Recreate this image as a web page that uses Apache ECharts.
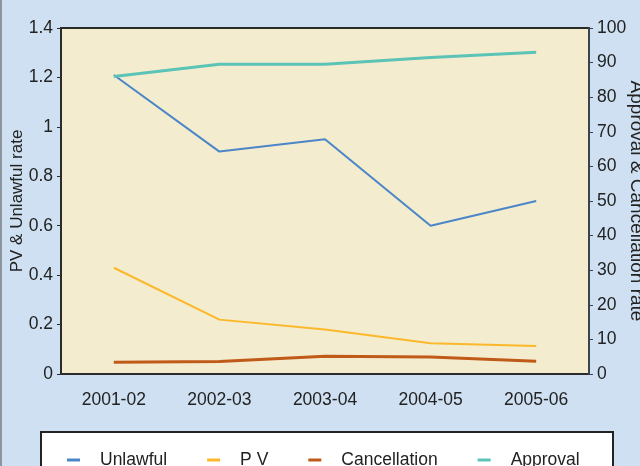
<!DOCTYPE html>
<html>
<head>
<meta charset="utf-8">
<script src="https://cdn.jsdelivr.net/npm/echarts@6/dist/echarts.min.js"></script>
<style>
html,body{margin:0;padding:0;background:#cee0f1;}
#c{width:640px;height:466px;}
</style>
</head>
<body>
<div id="c"></div>
<script>
const categories = ['2001-02', '2002-03', '2003-04', '2004-05', '2005-06'];
const unlawful = [1.21, 0.9, 0.95, 0.6, 0.7];
const pv = [0.43, 0.22, 0.18, 0.124, 0.113];
const cancellation = [3.4, 3.6, 5.1, 4.9, 3.7];
const approval = [86, 89.5, 89.5, 91.5, 93];

const font = 'Liberation Sans, Arial, sans-serif';
const chart = echarts.init(document.getElementById('c'));
chart.setOption({
  backgroundColor: '#cee0f1',
  animation: false,
  textStyle: { fontFamily: font },
  grid: {
    left: 61, right: 51, top: 28, bottom: 92,
    containLabel: false, outerBoundsMode: 'none',
    show: true, backgroundColor: '#f4ecce', borderColor: '#2b2b2b', borderWidth: 2
  },
  graphic: [
    { type: 'rect', z: 0, shape: { x: 41, y: 432, width: 572, height: 60 },
      style: { fill: '#ffffff', stroke: '#222222', lineWidth: 2 } },
    { type: 'rect', z: 0, shape: { x: 0, y: 0, width: 2, height: 466 },
      style: { fill: '#8d949c' } }
  ],
  legend: {
    left: 67, top: 451, padding: 0, itemGap: 40,
    itemWidth: 13, itemHeight: 3, icon: 'rect',
    textStyle: { fontSize: 17.5, color: '#222', fontFamily: font, padding: [0, 0, 0, 15] },
    data: ['Unlawful', 'P V', 'Cancellation', 'Approval']
  },
  xAxis: {
    type: 'category', data: categories, boundaryGap: true,
    axisLine: { show: false }, axisTick: { show: false },
    axisLabel: { fontSize: 17.5, color: '#222', margin: 17, fontFamily: font }
  },
  yAxis: [
    {
      type: 'value', min: 0, max: 1.4, interval: 0.2, position: 'left',
      name: 'PV & Unlawful rate', nameLocation: 'middle', nameGap: 35, nameMoveOverlap: false,
      nameTextStyle: { fontSize: 17, color: '#222', fontFamily: font },
      axisLine: { show: true, lineStyle: { color: '#2b2b2b', width: 2 } },
      axisTick: { show: true, length: 4, lineStyle: { color: '#2b2b2b', width: 1 } },
      axisLabel: { fontSize: 17.5, color: '#222', margin: 8, fontFamily: font },
      splitLine: { show: false }
    },
    {
      type: 'value', min: 0, max: 100, interval: 10, position: 'right',
      name: 'Approval & Cancellation rate', nameLocation: 'middle', nameGap: 38, nameRotate: -90,
      nameMoveOverlap: false,
      nameTextStyle: { fontSize: 19, color: '#222', fontFamily: font },
      axisLine: { show: true, lineStyle: { color: '#3a4450', width: 2 } },
      axisTick: { show: true, length: 4, lineStyle: { color: '#3a4450', width: 1 } },
      axisLabel: { fontSize: 17.5, color: '#222', margin: 8, fontFamily: font },
      splitLine: { show: false }
    }
  ],
  series: [
    { name: 'Unlawful', type: 'line', yAxisIndex: 0, data: unlawful, showSymbol: false,
      itemStyle: { color: '#4a86c8' }, lineStyle: { color: '#4a86c8', width: 2 } },
    { name: 'P V', type: 'line', yAxisIndex: 0, data: pv, showSymbol: false,
      itemStyle: { color: '#fbb82a' }, lineStyle: { color: '#fbb82a', width: 2 } },
    { name: 'Cancellation', type: 'line', yAxisIndex: 1, data: cancellation, showSymbol: false,
      itemStyle: { color: '#c05a18' }, lineStyle: { color: '#c05a18', width: 3 } },
    { name: 'Approval', type: 'line', yAxisIndex: 1, data: approval, showSymbol: false,
      itemStyle: { color: '#5cc4b6' }, lineStyle: { color: '#5cc4b6', width: 3 } }
  ]
});
</script>
</body>
</html>
